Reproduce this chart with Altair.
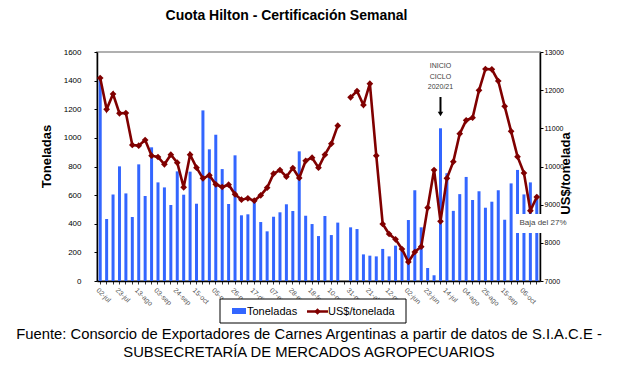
import json
import altair as alt
import pandas as pd

# ---- data (weekly, 02-jul-2019 .. 20-oct-2020) ----
toneladas = [1410, 433, 605, 801, 612, 447, 815, 594, 934, 689,
             654, 531, 766, 603, 764, 540, 1192, 920, 1022, 782,
             538, 878, 459, 466, 552, 412, 347, 449, 480, 536,
             489, 906, 456, 398, 314, 454, 321, 408, None, 375,
             363, 186, 177, 172, 224, 172, 247, 210, 426, 634,
             375, 91, 40, 1067, 753, 490, 607, 727, 566, 627,
             512, 554, 634, 428, 682, 776, 605, 689, 602]
usd_ton = [12319, 11498, 11900, 11393, 11402, 10563, 10546, 10694, 10284, 10249,
           10057, 10310, 10100, 9454, 10310, 9969, 9690, 9769, 9533, 9463,
           9524, 9271, 9131, 9166, 9105, 9245, 9445, 9812, 9908, 9734,
           9961, 9699, 10150, 10231, 9969, 10310, 10598, 11070, None, 11812,
           11978, 11611, 12170, 10284, 8493, 8231, 8092, 7838, 7498, 7760,
           7900, 8921, 9908, 8563, 9690, 10127, 10860, 11210, 11279, 11996,
           12555, 12546, 12240, 11576, 10921, 10258, 9830, 8843, 9201]
etiquetas = ["02-jul", "23-jul", "13-ago", "03-sep", "24-sep", "15-oct", "05-nov",
             "26-nov", "17-dic", "07-ene", "28-ene", "18-feb", "10-mar", "31-mar",
             "21-abr", "12-may", "02-jun", "23-jun", "14-jul", "04-ago", "25-ago",
             "15-sep", "06-oct"]
indices_ton = [0, 200, 400, 600, 800, 1000, 1200, 1400, 1600]
indices_usd = [7000, 8000, 9000, 10000, 11000, 12000, 13000]
inicio_ciclo = 53

n = len(toneladas)
rows = []
seg = 0
for i in range(n):
    if usd_ton[i] is None:
        seg += 1
    rows.append({"idx": i, "ton": toneladas[i], "usd": usd_ton[i], "seg": seg})
df = pd.DataFrame(rows)
df_bar = df[df["ton"].notna()]
df_line = df[df["usd"].notna()]

FONT = "Liberation Sans"

label_expr = "(datum.value % 3 == 0 && datum.value / 3 < {n}) ? {arr}[datum.value / 3] : ''".format(
    n=len(etiquetas), arr=json.dumps(etiquetas))

x_enc = alt.X("idx:O",
              scale=alt.Scale(domain=list(range(n)), paddingInner=0, paddingOuter=0),
              axis=alt.Axis(title=None, labelExpr=label_expr, labelAngle=45,
                            labelAlign="left", labelBaseline="top",
                            labelFontSize=7, labelColor="#555555", labelFont=FONT,
                            labelPadding=2, labelOverlap=False,
                            tickSize=3, tickColor="#333333",
                            domainColor="black", domainWidth=1.5))


def one():
    return alt.Chart(alt.Data(values=[{"k": 1}]))


def txt(s, x, y, size, weight="normal", color="black", align="center"):
    return one().mark_text(text=s, fontSize=size, fontWeight=weight, color=color,
                           align=align, baseline="middle", font=FONT).encode(
        x=alt.value(x), y=alt.value(y))


bars = alt.Chart(df_bar).mark_bar(size=3, color="#3366ff").encode(
    x=x_enc,
    y=alt.Y("ton:Q",
            scale=alt.Scale(domain=[0, 1600], nice=False, zero=True),
            axis=alt.Axis(title="Toneladas", values=indices_ton, format="d",
                          labelFontSize=8, labelFont=FONT, labelColor="black",
                          labelPadding=13, tickSize=3, tickColor="black",
                          domainColor="black", domainWidth=1.5,
                          titleFontSize=13, titleFontWeight="bold", titleFont=FONT,
                          titleAngle=270, titleAlign="center", titleBaseline="middle",
                          titleX=-51, titleY=104, grid=False)),
)

y_usd = alt.Scale(domain=[7000, 13000], nice=False, zero=False)
axis_usd = alt.Axis(title="US$/tonelada", orient="right", values=indices_usd, format="d",
                    labelFontSize=7, labelFont=FONT, labelColor="black",
                    labelPadding=1, tickSize=3, tickColor="black",
                    domainColor="black", domainWidth=1.5,
                    titleFontSize=13, titleFontWeight="bold", titleFont=FONT,
                    titleAngle=270, titleAlign="center", titleBaseline="middle",
                    titleX=25, titleY=121, grid=False)
line = alt.Chart(df_line).mark_line(color="#800000", strokeWidth=2.6).encode(
    x=x_enc,
    y=alt.Y("usd:Q", scale=y_usd, axis=axis_usd, title="US$/tonelada"),
    detail="seg:N",
)
pts = alt.Chart(df_line).mark_point(shape="diamond", filled=True, size=45,
                                    color="#800000", opacity=1).encode(
    x=x_enc, y=alt.Y("usd:Q", scale=y_usd, axis=axis_usd, title="US$/tonelada"))

# annotations
inicio = [
    one().mark_text(text=t, fontSize=7, color="#404040", baseline="middle", font=FONT).encode(
        x=alt.XDatum(inicio_ciclo, type="ordinal"), y=alt.value(yy))
    for t, yy in [("INICIO", 14), ("CICLO", 24.5), ("2020/21", 35)]
]
arrow = one().mark_rule(color="black", strokeWidth=2).encode(
    x=alt.XDatum(inicio_ciclo, type="ordinal"), y=alt.value(45), y2=alt.value(61))
arrow_head = one().mark_point(shape="triangle-down", filled=True, size=30,
                              color="black", opacity=1).encode(
    x=alt.XDatum(inicio_ciclo, type="ordinal"), y=alt.value(62))

baja_box = one().mark_rect(color="white").encode(
    x=alt.value(418), x2=alt.value(472), y=alt.value(162), y2=alt.value(181))
baja_txt = txt("Baja del 27%", 446, 171, 8, color="#444444")

leg_box = one().mark_rect(fill="white", stroke="black", strokeWidth=1).encode(
    x=alt.value(123), x2=alt.value(309), y=alt.value(247), y2=alt.value(271))
leg_bar = one().mark_rect(color="#3366ff").encode(
    x=alt.value(135), x2=alt.value(149), y=alt.value(256), y2=alt.value(262))
leg_bar_t = txt("Toneladas", 150, 259.5, 11, align="left")
leg_line = one().mark_rule(color="#800000", strokeWidth=2.5).encode(
    x=alt.value(210), x2=alt.value(231), y=alt.value(259.5))
leg_pt = one().mark_point(shape="diamond", filled=True, size=40, color="#800000",
                          opacity=1).encode(x=alt.value(220.5), y=alt.value(259.5))
leg_line_t = txt("US$/tonelada", 231, 259.5, 11, align="left")

title = txt("Cuota Hilton - Certificación Semanal", 189.5, -36, 14, weight="bold")
fuente1 = txt("Fuente: Consorcio de Exportadores de Carnes Argentinas a partir de datos de S.I.A.C.E -",
              212, 283, 14.8)
fuente2 = txt("SUBSECRETARÍA DE MERCADOS AGROPECUARIOS", 212, 301, 14.8)

line_layer = alt.layer(
    line, pts, baja_box, baja_txt, *inicio, arrow, arrow_head,
    leg_box, leg_bar, leg_bar_t, leg_line, leg_pt, leg_line_t,
    title, fuente1, fuente2,
)

chart = alt.layer(bars, line_layer).resolve_scale(y="independent").properties(
    width=443, height=229,
    autosize=alt.AutoSizeParams(type="none"),
    padding={"left": 89, "top": 44, "right": 70, "bottom": 80},
).configure(font=FONT).configure_view(stroke="#b0b0b0", strokeWidth=2)

chart.save("out.html", embed_options={"renderer": "svg", "actions": False})
